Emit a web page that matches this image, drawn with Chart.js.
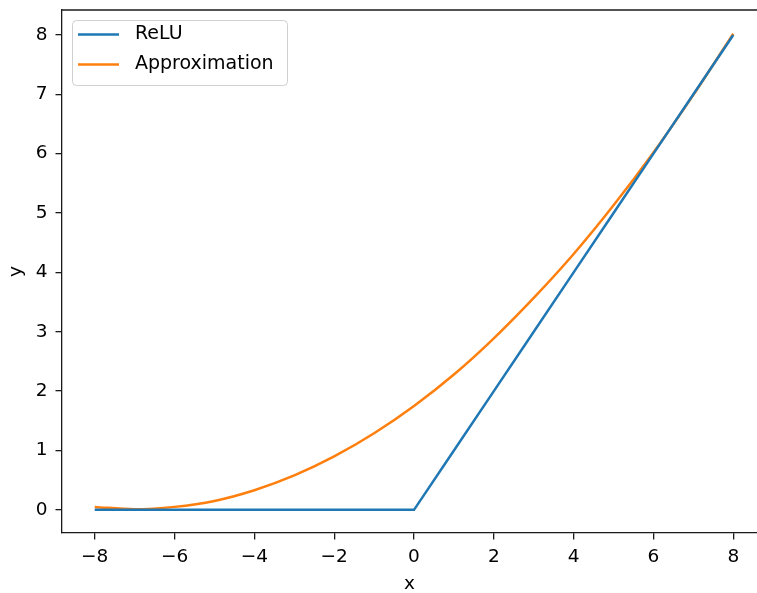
<!DOCTYPE html>
<html>
<head>
<meta charset="utf-8">
<script src="https://cdn.jsdelivr.net/npm/chart.js@4/dist/chart.umd.min.js"></script>
<style>
  html, body { margin: 0; padding: 0; background: #fff; overflow: hidden; }
  #wrap { width: 757px; height: 593px; }
</style>
</head>
<body>
<div id="wrap"><canvas id="chart" width="757" height="593"></canvas></div>
<script>
// values
const xValues = [-8, -7, -6, -5, -4, -3, -2, -1, 0, 1, 2, 3, 4, 5, 6, 7, 8];
const reluValues = [0, 0, 0, 0, 0, 0, 0, 0, 0, 1, 2, 3, 4, 5, 6, 7, 8];
const approxValues = [0.05, 0.01, 0.05, 0.15, 0.33, 0.58, 0.9, 1.29, 1.75, 2.28, 2.89, 3.57, 4.31, 5.13, 6.02, 6.99, 8.02];
const xTicks = [-8, -6, -4, -2, 0, 2, 4, 6, 8];
const yTicks = [0, 1, 2, 3, 4, 5, 6, 7, 8];

const FONT = "'DejaVu Sans', sans-serif";
const AXIS = "#1a1a1a";
Chart.defaults.font.family = FONT;
Chart.defaults.font.size = 18.5;
Chart.defaults.color = "#000";

const toPoints = (ys) => xValues.map((x, i) => ({ x: x, y: ys[i] }));
const fmt = (v) => String(v).replace("-", "\u2212");
const noPad = (s) => { s.paddingTop = 0; s.paddingBottom = 0; s.paddingLeft = 0; s.paddingRight = 0; };

// matplotlib style legend box inside the plot + top spine (right spine is cropped off in the original)
const mplExtras = {
  id: "mplExtras",
  afterDraw(chart) {
    const ctx = chart.ctx;
    const a = chart.chartArea;
    ctx.save();
    ctx.strokeStyle = AXIS;
    ctx.lineWidth = 1.3;
    ctx.beginPath();
    ctx.moveTo(a.left, a.top);
    ctx.lineTo(a.right, a.top);
    ctx.stroke();

    const bx = a.left + 10, by = a.top + 10, bw = 215, bh = 65;
    ctx.fillStyle = "rgba(255,255,255,0.8)";
    ctx.strokeStyle = "#d0d0d0";
    ctx.lineWidth = 1;
    ctx.beginPath();
    ctx.roundRect(bx + 0.5, by + 0.5, bw, bh, 4);
    ctx.fill();
    ctx.stroke();

    ctx.font = "19px " + FONT;
    ctx.textBaseline = "middle";
    ctx.textAlign = "left";
    chart.data.datasets.forEach((ds, i) => {
      const y = by + 14.5 + i * 30;
      ctx.strokeStyle = ds.borderColor;
      ctx.lineWidth = 2.5;
      ctx.beginPath();
      ctx.moveTo(bx + 6, y);
      ctx.lineTo(bx + 47, y);
      ctx.stroke();
      ctx.fillStyle = "#000";
      ctx.fillText(ds.label, bx + 63, y);
    });
    ctx.restore();
  }
};

new Chart(document.getElementById("chart"), {
  type: "line",
  data: {
    datasets: [
      {
        label: "ReLU",
        data: toPoints(reluValues),
        borderColor: "#1f77b4",
        borderWidth: 2.5,
        pointRadius: 0,
        tension: 0
      },
      {
        label: "Approximation",
        data: toPoints(approxValues),
        borderColor: "#ff7f0e",
        borderWidth: 2.5,
        pointRadius: 0,
        cubicInterpolationMode: "monotone"
      }
    ]
  },
  options: {
    responsive: false,
    animation: false,
    devicePixelRatio: 1,
    layout: { padding: { top: 10, right: 0, left: 0, bottom: 0 } },
    plugins: { legend: { display: false }, tooltip: { enabled: false } },
    scales: {
      x: {
        type: "linear",
        min: -8.82,
        max: 8.594,
        afterFit: (s) => { s.height = 60; noPad(s); },
        afterBuildTicks: (s) => { s.ticks = xTicks.map((v) => ({ value: v })); },
        ticks: { padding: 7, callback: (v) => fmt(v), maxRotation: 0 },
        grid: { drawOnChartArea: false, drawTicks: true, tickLength: 6.5, color: AXIS, lineWidth: 1.3 },
        border: { display: true, color: AXIS, width: 1.3 },
        title: { display: true, text: "x", font: { size: 18.5, lineHeight: 1 }, padding: 0 }
      },
      y: {
        type: "linear",
        min: -0.39,
        max: 8.42,
        afterFit: (s) => { s.width = 62; noPad(s); },
        afterBuildTicks: (s) => { s.ticks = yTicks.map((v) => ({ value: v })); },
        ticks: { padding: 8, callback: (v) => fmt(v) },
        grid: { drawOnChartArea: false, drawTicks: true, tickLength: 6.5, color: AXIS, lineWidth: 1.3 },
        border: { display: true, color: AXIS, width: 1.3 },
        title: { display: true, text: "y", font: { size: 18.5, lineHeight: 1 }, padding: { top: 7, bottom: 0 } }
      }
    }
  },
  plugins: [mplExtras]
});
</script>
</body>
</html>
